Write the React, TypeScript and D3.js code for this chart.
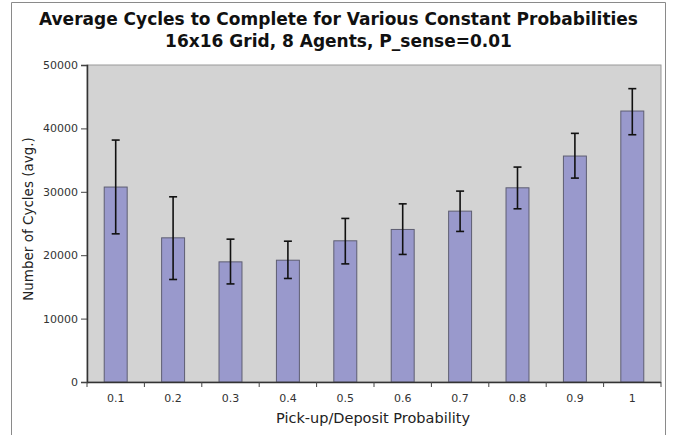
import {useEffect, useRef} from 'react';
import * as d3 from 'd3';

// values
const CATEGORIES = ['0.1', '0.2', '0.3', '0.4', '0.5', '0.6', '0.7', '0.8', '0.9', '1'];
const MEANS = [30750, 22740, 18950, 19210, 22270, 24060, 26950, 30630, 35640, 42740];
const ERR_LOW = [23370, 16170, 15470, 16330, 18630, 20120, 23750, 27320, 32160, 39000];
const ERR_HIGH = [38160, 29210, 22530, 22210, 25800, 28100, 30110, 33900, 39220, 46270];
const Y_TICKS = [0, 10000, 20000, 30000, 40000, 50000];

const TITLE_LINES = [
    'Average Cycles to Complete for Various Constant Probabilities',
    '16x16 Grid, 8 Agents, P_sense=0.01'
];

const CHART_PARAMS = {
    width: 677,
    height: 435,
    margin: {
        left: 87,
        right: 16,
        top: 65,
        bottom: 53
    }
};

export default function App() {
    const svgRef = useRef<SVGSVGElement>(null);

    useEffect(() => {
        const svg = d3.select(svgRef.current);
        svg.selectAll('*').remove();

        const {width, height, margin} = CHART_PARAMS;
        const drawWidth = width - margin.left - margin.right;
        const drawHeight = height - margin.top - margin.bottom;

        const xScale = d3.scaleBand().domain(CATEGORIES).range([0, drawWidth]).padding(0);
        const yScale = d3.scaleLinear().domain([0, 50000]).range([drawHeight, 0]);
        const barWidth = xScale.bandwidth() * 0.4;

        // outer frame (no bottom edge visible)
        svg.append('path')
            .attr('d', `M11.5,${height} V2.5 H665.5 V${height}`)
            .attr('fill', 'none')
            .attr('stroke', '#8a8a8a')
            .attr('stroke-width', 1);

        // title
        const title = svg.append('text')
            .attr('text-anchor', 'middle')
            .attr('font-family', 'DejaVu Sans')
            .attr('font-weight', 'bold')
            .attr('font-size', 17)
            .attr('fill', '#111');
        TITLE_LINES.forEach((line, i) => {
            title.append('tspan').attr('x', 338.5).attr('y', 25 + i * 21.7).text(line);
        });

        const g = svg.append('g')
            .attr('transform', `translate(${margin.left}, ${margin.top})`);

        g.append('rect')
            .attr('x', 0).attr('y', 0)
            .attr('width', drawWidth).attr('height', drawHeight)
            .attr('fill', '#d3d3d3')
            .attr('stroke', '#9a9a9a');

        // bars
        g.selectAll('rect.bar')
            .data(MEANS)
            .enter().append('rect')
            .attr('class', 'bar')
            .attr('x', (_, i) => (xScale(CATEGORIES[i]) as number) + (xScale.bandwidth() - barWidth) / 2)
            .attr('y', (d) => yScale(d))
            .attr('width', barWidth)
            .attr('height', (d) => drawHeight - yScale(d))
            .attr('fill', '#9999cc')
            .attr('stroke', '#5e5e72')
            .attr('stroke-width', 1);

        // error bars
        const errors = g.selectAll('g.err')
            .data(CATEGORIES)
            .enter().append('g')
            .attr('class', 'err')
            .attr('transform', (d) => `translate(${(xScale(d) as number) + xScale.bandwidth() / 2}, 0)`);
        errors.append('line')
            .attr('x1', 0).attr('x2', 0)
            .attr('y1', (_, i) => yScale(ERR_LOW[i]))
            .attr('y2', (_, i) => yScale(ERR_HIGH[i]));
        errors.append('line')
            .attr('x1', -4).attr('x2', 4)
            .attr('y1', (_, i) => yScale(ERR_LOW[i]))
            .attr('y2', (_, i) => yScale(ERR_LOW[i]));
        errors.append('line')
            .attr('x1', -4).attr('x2', 4)
            .attr('y1', (_, i) => yScale(ERR_HIGH[i]))
            .attr('y2', (_, i) => yScale(ERR_HIGH[i]));
        errors.selectAll('line')
            .attr('stroke', '#111')
            .attr('stroke-width', 1.6);

        // axes
        const yAxis = g.append('g')
            .call(d3.axisLeft(yScale).tickValues(Y_TICKS).tickSize(6).tickPadding(3).tickFormat(d3.format('d')));
        const xAxis = g.append('g')
            .attr('transform', `translate(0, ${drawHeight})`)
            .call(d3.axisBottom(xScale).tickSize(0).tickPadding(12));

        [yAxis, xAxis].forEach((ax) => {
            ax.select('.domain').attr('stroke', '#333').attr('stroke-width', 1.5);
            ax.selectAll('line').attr('stroke', '#444');
            ax.selectAll('text')
                .attr('font-family', 'DejaVu Sans')
                .attr('font-size', 11)
                .attr('fill', '#333');
        });
        xAxis.select('.domain').attr('d', `M0,0.5H${drawWidth}`);

        // boundary ticks between categories on x axis
        xAxis.selectAll('line.sep')
            .data(d3.range(CATEGORIES.length + 1))
            .enter().append('line')
            .attr('class', 'sep')
            .attr('x1', (i) => i * xScale.step())
            .attr('x2', (i) => i * xScale.step())
            .attr('y1', 0).attr('y2', 5)
            .attr('stroke', '#444');

        // axis titles
        svg.append('text')
            .attr('transform', `translate(33, 219) rotate(-90)`)
            .attr('text-anchor', 'middle')
            .attr('font-family', 'DejaVu Sans')
            .attr('font-size', 13.5)
            .attr('fill', '#222')
            .text('Number of Cycles (avg.)');
        svg.append('text')
            .attr('x', 373)
            .attr('y', 423)
            .attr('text-anchor', 'middle')
            .attr('font-family', 'DejaVu Sans')
            .attr('font-size', 14.5)
            .attr('fill', '#222')
            .text('Pick-up/Deposit Probability');
    }, []);

    return (
        <svg ref={svgRef}
            width={CHART_PARAMS.width} height={CHART_PARAMS.height}
            style={{position: 'absolute', left: 0, top: 0, background: '#fff'}} />
    );
}
